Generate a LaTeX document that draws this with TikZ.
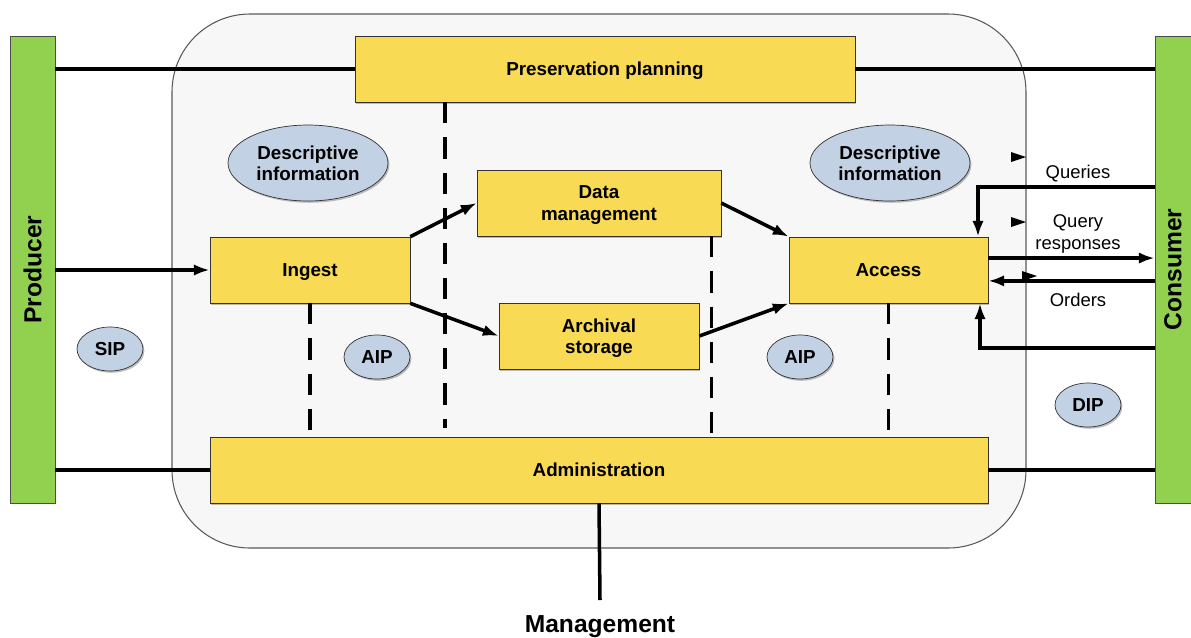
\documentclass[tikz,border=0pt]{standalone}
\usepackage{fontspec}
\setmainfont{Liberation Sans}
\usetikzlibrary{shapes.geometric,shadows,arrows.meta}

\definecolor{boxyellow}{HTML}{F8DA55}
\definecolor{bargreen}{HTML}{92D050}
\definecolor{pkgblue}{HTML}{C2D1E3}
\definecolor{areagray}{HTML}{F7F7F7}
\newcommand{\lblfont}{\bfseries\fontsize{10.7}{12}\selectfont}

\begin{document}
\begin{tikzpicture}[x=0.02cm, y=-0.02cm, >={Latex[length=9pt,width=6.5pt]}]
    \tikzset{
        shade_it/.style={drop shadow={shadow xshift=0.8pt, shadow yshift=-1pt, opacity=0.25, fill=black}},
        box/.style={draw=black!80, fill=boxyellow, minimum height=1.32cm, align=center, text depth=0pt, font=\lblfont, shade_it},
        pkg/.style={ellipse, draw=black!80, fill=pkgblue, inner sep=0pt, align=center, text depth=0pt, font=\lblfont, shade_it},
        bar/.style={draw=black!70, fill=bargreen, minimum width=0.9cm, minimum height=9.34cm},
        conn/.style={line width=2pt},
        dashln/.style={line width=2pt, dash pattern=on 12pt off 8pt},
        note/.style={align=center, font=\fontsize{10.5}{12.5}\selectfont}
    }
    \useasboundingbox (0,0) rectangle (1191,637);

    % archive area
    \draw[draw=black!65, fill=areagray, line width=0.6pt, rounded corners=1.56cm]
        (172,14) rectangle (1026,548);

    % outside actors
    \node[bar] (producer) at (32.5,269.5) {};
    \node[rotate=90, font=\bfseries\fontsize{14}{16}\selectfont] (producer_lbl) at (producer) {Producer};
    \node[bar, minimum width=0.72cm] (consumer) at (1173,269.5) {};
    \node[rotate=90, font=\bfseries\fontsize{14}{16}\selectfont] (consumer_lbl) at (consumer) {Consumer};

    % functional entities
    \node[box, minimum width=10cm] (plan) at (605,69) {Preservation planning};
    \node[box, minimum width=4cm] (ingest) at (310,270) {Ingest};
    \node[box, minimum width=4.88cm] (datamgmt) at (599,203) {Data\\management};
    \node[box, minimum width=4cm] (storage) at (599,336) {Archival\\storage};
    \node[box, minimum width=3.98cm] (access) at (888.5,270) {Access};
    \node[box, minimum width=15.56cm] (admin) at (599,470) {Administration};

    % information packages
    \node[pkg, minimum width=3.2cm, minimum height=1.52cm] (desc_l) at (308,163) {Descriptive\\information};
    \node[pkg, minimum width=3.2cm, minimum height=1.52cm] (desc_r) at (890,163) {Descriptive\\information};
    \node[pkg, minimum width=1.32cm, minimum height=0.88cm] (sip) at (110,349) {SIP};
    \node[pkg, minimum width=1.32cm, minimum height=0.88cm] (aip_l) at (377,357) {AIP};
    \node[pkg, minimum width=1.32cm, minimum height=0.88cm] (aip_r) at (800,357) {AIP};
    \node[pkg, minimum width=1.32cm, minimum height=0.88cm] (dip) at (1088,405) {DIP};

    \node[font=\bfseries\fontsize{14}{16}\selectfont, inner sep=0pt] (mgmt) at (600,627) {Management};

    % producer / consumer links
    \draw[conn] (producer.east |- plan.west) -- (plan.west);
    \draw[conn] (plan.east) -- (consumer.west |- plan.east);
    \draw[conn, ->] (producer.east |- ingest.west) -- (ingest.west);
    \draw[conn] (producer.east |- admin.west) -- (admin.west);
    \draw[conn] (admin.east) -- (consumer.west |- admin.east);
    \coordinate (mgmt_end) at (600,600);
    \draw[conn] (admin.south) -- (mgmt_end);

    % data flow
    \draw[conn, ->] (ingest.north east) -- (datamgmt.west);
    \draw[conn, ->] (ingest.south east) -- (storage.west);
    \draw[conn, ->] (datamgmt.east) -- (access.north west);
    \draw[conn, ->] (storage.east) -- (access.south west);

    % consumer side
    \coordinate (q_turn) at (978,187);
    \coordinate (o_turn) at (980,348);
    \coordinate (resp_out) at ([yshift=6.8pt]access.east);
    \coordinate (ord_in) at ([yshift=-6.2pt]access.east);
    \draw[conn, ->] (consumer.west |- q_turn) -- (q_turn) -- (q_turn |- access.north);
    \draw[conn, ->] (resp_out) -- (consumer.west |- resp_out);
    \draw[conn, <-] (ord_in) -- (consumer.west |- ord_in);
    \draw[conn, ->] (consumer.west |- o_turn) -- (o_turn) -- (o_turn |- access.south);
    \node[note] (queries) at (1078,174) {Queries};
    \node[note] (responses) at (1078,234) {Query\\responses};
    \node[note] (orders) at (1078,300) {Orders};
    \fill (1011,152) -- (1026,157) -- (1011,162) -- cycle;
    \fill (1011,217) -- (1026,222) -- (1011,227) -- cycle;
    \fill (1022,271) -- (1037,276) -- (1022,281) -- cycle;

    % management links
    \draw[dashln] ([xshift=-3.2cm]plan.south) -- ++(0,326);
    \draw[dashln] (ingest.south) -- (ingest.south |- admin.north);
    \coordinate (dm_foot) at ([xshift=-0.2cm]datamgmt.south east);
    \draw[dashln] (dm_foot) -- (dm_foot |- admin.north);
    \draw[dashln] (access.south) -- (access.south |- admin.north);

\end{tikzpicture}
\end{document}
